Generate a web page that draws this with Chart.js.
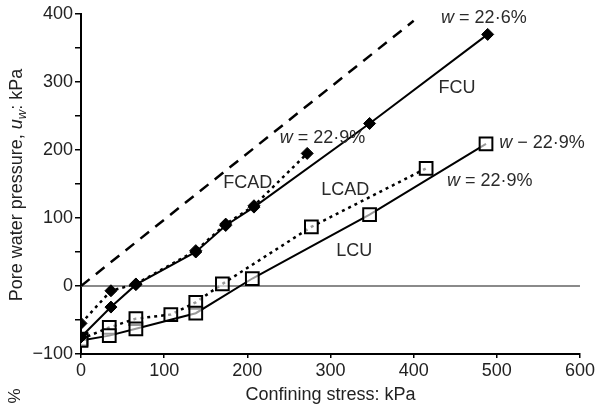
<!DOCTYPE html>
<html>
<head>
<meta charset="utf-8">
<script src="https://cdn.jsdelivr.net/npm/chart.js@4.4.0/dist/chart.umd.min.js"></script>
<style>
  body { margin: 0; background: #fff; }
  #wrap { width: 597px; height: 408px; }
</style>
</head>
<body>
<div id="wrap"><canvas id="poreChart" width="597" height="408"></canvas></div>
<script>
// values (kPa)
const fcuX = [0, 36, 66, 138, 174, 208, 347, 489];
const fcuY = [-75, -31, 2, 50, 89, 116, 239, 370];
const fcadX = [0, 36, 66, 138, 174, 208, 272];
const fcadY = [-55, -7, 3, 52, 91, 118, 195];
const lcuX = [0, 34, 66, 138, 206, 347, 487];
const lcuY = [-80, -73, -63, -40, 11, 105, 209];
const lcadX = [0, 34, 66, 108, 138, 170, 277, 415];
const lcadY = [-78, -61, -48, -42, -24, 3, 87, 173];
const dashX = [0, 400];
const dashY = [0, 390];
const zeroX = [0, 600];
const zeroY = [0, 0];

const xTicks = [0, 100, 200, 300, 400, 500, 600];
const yTicks = [-100, 0, 100, 200, 300, 400];

// labels on the plot: [text before, italic w?, rest, x, y]
const notes = [
  ['w', ' = 22·6%', 433, 394],
  ['', 'FCU', 430, 291],
  ['w', ' = 22·9%', 239, 217],
  ['', 'FCAD', 171, 152],
  ['', 'LCAD', 289, 141],
  ['w', ' − 22·9%', 503, 210],
  ['w', ' = 22·9%', 440, 155],
  ['', 'LCU', 307, 52]
];

function pts(xs, ys) {
  return xs.map((x, i) => ({ x: x, y: ys[i] }));
}

const FONT = '"Liberation Sans", Arial, sans-serif';

const textPlugin = {
  id: 'textPlugin',
  afterDraw(chart) {
    const ctx = chart.ctx;
    const xs = chart.scales.x;
    const ys = chart.scales.y;
    ctx.save();
    ctx.fillStyle = '#2a2a2a';
    ctx.textBaseline = 'middle';
    ctx.textAlign = 'left';
    notes.forEach((n) => {
      let px = xs.getPixelForValue(n[2]);
      const py = ys.getPixelForValue(n[3]);
      if (n[0]) {
        ctx.font = 'italic 18px ' + FONT;
        ctx.fillText(n[0], px, py);
        px += ctx.measureText(n[0]).width;
      }
      ctx.font = '18px ' + FONT;
      ctx.fillText(n[1], px, py);
    });

    // x axis title
    ctx.fillStyle = '#222';
    ctx.textAlign = 'center';
    ctx.font = '18px ' + FONT;
    ctx.fillText('Confining stress: kPa', (chart.chartArea.left + chart.chartArea.right) / 2, 395);

    // y axis title with italic u and subscript w
    ctx.translate(17, 185);
    ctx.rotate(-Math.PI / 2);
    const parts = [
      ['Pore water pressure, ', '18px ', 0],
      ['u', 'italic 18px ', 0],
      ['w', 'italic 13px ', 5],
      [': kPa', '18px ', 0]
    ];
    let total = 0;
    parts.forEach((p) => { ctx.font = p[1] + FONT; total += ctx.measureText(p[0]).width; });
    let cx = -total / 2;
    ctx.textAlign = 'left';
    parts.forEach((p) => {
      ctx.font = p[1] + FONT;
      ctx.fillText(p[0], cx, p[2]);
      cx += ctx.measureText(p[0]).width;
    });
    ctx.restore();

    // cropped fragment at bottom left
    ctx.save();
    ctx.fillStyle = '#222';
    ctx.font = '17px ' + FONT;
    ctx.translate(15, 396);
    ctx.rotate(-Math.PI / 2);
    ctx.textAlign = 'center';
    ctx.textBaseline = 'middle';
    ctx.fillText('%', 0, 0);
    ctx.restore();
  }
};

const ctx = document.getElementById('poreChart').getContext('2d');
new Chart(ctx, {
  type: 'line',
  data: {
    datasets: [
      {
        label: 'FCU',
        data: pts(fcuX, fcuY),
        borderColor: '#000',
        borderWidth: 2,
        pointStyle: 'rectRot',
        pointRadius: 6,
        pointBackgroundColor: '#000',
        pointBorderColor: '#000',
        pointBorderWidth: 1,
      },
      {
        label: 'FCAD',
        data: pts(fcadX, fcadY),
        borderColor: '#000',
        borderWidth: 2.5,
        borderDash: [3, 4],
        pointStyle: 'rectRot',
        pointRadius: 6,
        pointBackgroundColor: '#000',
        pointBorderColor: '#000',
        pointBorderWidth: 1,
      },
      {
        label: 'LCU',
        data: pts(lcuX, lcuY),
        borderColor: '#000',
        borderWidth: 2,
        pointStyle: 'rect',
        pointRadius: 9,
        pointBackgroundColor: 'rgba(255,255,255,0.6)',
        pointBorderColor: '#000',
        pointBorderWidth: 2,
      },
      {
        label: 'LCAD',
        data: pts(lcadX, lcadY),
        borderColor: '#000',
        borderWidth: 2.5,
        borderDash: [3, 4],
        pointStyle: 'rect',
        pointRadius: 9,
        pointBackgroundColor: 'rgba(255,255,255,0.6)',
        pointBorderColor: '#000',
        pointBorderWidth: 2,
      },
      {
        label: 'dashed',
        data: pts(dashX, dashY),
        borderColor: '#000',
        borderWidth: 2.5,
        borderDash: [11, 8],
        pointRadius: 0,
      },
      {
        label: 'zero',
        data: pts(zeroX, zeroY),
        borderColor: '#8a8a8a',
        borderWidth: 2,
        pointRadius: 0,
      },
    ],
  },
  options: {
    responsive: false,
    animation: false,
    devicePixelRatio: 1,
    layout: { padding: { top: 14, right: 17, left: 0, bottom: 0 } },
    plugins: {
      legend: { display: false },
      tooltip: { enabled: false },
    },
    scales: {
      x: {
        type: 'linear',
        min: 0,
        max: 600,
        afterFit: (s) => { s.height = 54; },
        afterBuildTicks: (s) => { s.ticks = xTicks.map((v) => ({ value: v })); },
        border: { display: true, color: '#000', width: 2 },
        grid: { drawOnChartArea: false, drawTicks: true, tickLength: 4, color: '#000', lineWidth: 1.5 },
        ticks: {
          color: '#222',
          padding: 2,
          maxRotation: 0,
          font: { family: FONT, size: 18 },
        },
      },
      y: {
        type: 'linear',
        min: -100,
        max: 400,
        afterFit: (s) => { s.width = 81; },
        afterBuildTicks: (s) => {
          const t = [];
          for (let v = -100; v <= 400; v += 50) t.push({ value: v });
          s.ticks = t;
        },
        border: { display: true, color: '#000', width: 2 },
        grid: { drawOnChartArea: false, drawTicks: true, tickLength: 6, color: '#000', lineWidth: 1.5 },
        ticks: {
          color: '#222',
          padding: 2,
          font: { family: FONT, size: 18 },
          callback: (v) => {
            if (!yTicks.includes(v)) return '';
            return v < 0 ? '\u2212' + Math.abs(v) : String(v);
          },
        },
      },
    },
  },
  plugins: [textPlugin],
});
</script>
</body>
</html>
